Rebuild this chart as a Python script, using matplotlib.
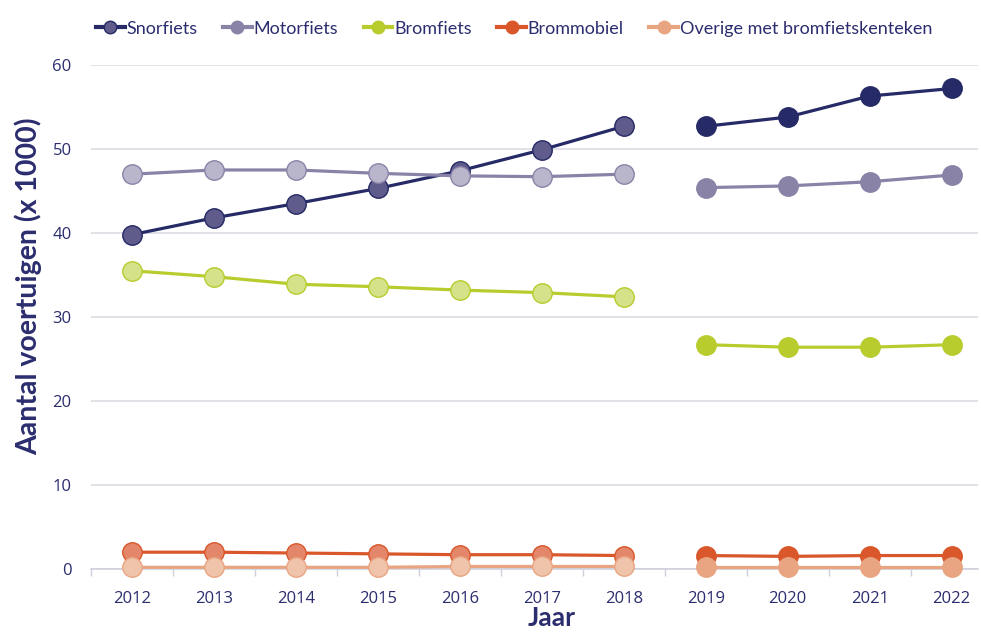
import matplotlib
matplotlib.use("Agg")
from matplotlib import pyplot as plt
from matplotlib.lines import Line2D

# jaren: 2012-2018 en 2019-2022 worden los getekend
jaren = ["2012", "2013", "2014", "2015", "2016", "2017", "2018",
         "2019", "2020", "2021", "2022"]
series = ["Snorfiets", "Motorfiets", "Bromfiets", "Brommobiel",
          "Overige met bromfietskenteken"]

snorfiets = [39.8, 41.8, 43.5, 45.3, 47.4, 49.9, 52.7, 52.7, 53.8, 56.3, 57.2]
motorfiets = [47.0, 47.5, 47.5, 47.1, 46.8, 46.7, 47.0, 45.4, 45.6, 46.1, 46.9]
bromfiets = [35.5, 34.8, 33.9, 33.6, 33.2, 32.9, 32.4, 26.7, 26.4, 26.4, 26.7]
brommobiel = [2.0, 2.0, 1.9, 1.8, 1.7, 1.7, 1.6, 1.6, 1.5, 1.6, 1.6]
overige = [0.2, 0.2, 0.2, 0.2, 0.3, 0.3, 0.3, 0.2, 0.2, 0.2, 0.2]

waarden = [snorfiets, motorfiets, bromfiets, brommobiel, overige]
kleuren = ["#262a66", "#8a83a8", "#b8cc2e", "#d9572a", "#e9a582"]
licht = ["#5f5b8a", "#b9b6cc", "#d6e28a", "#e3866a", "#f0c4ab"]

tekst = "#2b2d6e"
plt.rcParams["font.family"] = ["Open Sans", "DejaVu Sans"]
label_font = ["Lato", "DejaVu Sans"]

fig = plt.figure(figsize=(9.81, 6.32), dpi=100)
ax = fig.add_axes([0.0928, 0.0997, 0.904, 0.7975])

x = list(range(len(jaren)))
knip = 7
for vals, kl, lk in zip(waarden, kleuren, licht):
    # oude reeks (lichtere markers)
    ax.plot(x[:knip], vals[:knip], color=kl, lw=2.3, marker="o", ms=14,
            mfc=lk, mec=kl, mew=1.0, clip_on=False, zorder=3)
    # nieuwe reeks
    ax.plot(x[knip:], vals[knip:], color=kl, lw=2.3, marker="o", ms=14,
            mfc=kl, mec=kl, mew=1.0, clip_on=False, zorder=3)

ax.set_xlim(-0.5, 10.32)
ax.set_ylim(0, 60)
ax.set_yticks(range(0, 61, 10))
ax.set_xticks(x)
ax.set_xticklabels(jaren)
ax.set_xticks([i - 0.5 for i in range(len(jaren))], minor=True)
ax.tick_params(axis="x", which="major", length=0, pad=16, labelsize=12, labelcolor=tekst)
ax.tick_params(axis="x", which="minor", length=5, color="#d0d0dc", width=1)
ax.tick_params(axis="y", length=0, pad=14, labelsize=12, labelcolor=tekst)

ax.grid(axis="y", color="#dcdce4", lw=1.2)
ax.set_axisbelow(True)
for s in ["top", "right", "left"]:
    ax.spines[s].set_visible(False)
ax.spines["bottom"].set_color("#d0d0dc")
ax.spines["bottom"].set_linewidth(1.2)

ax.set_xlabel("Jaar", fontsize=19, fontweight="bold", color=tekst, family=label_font)
ax.set_ylabel("Aantal voertuigen (x 1000)", fontsize=20.5, fontweight="bold",
              color=tekst, family=label_font)
ax.xaxis.set_label_coords(0.519, -0.074)
ax.yaxis.set_label_coords(-0.055, 0.56)

handles = [Line2D([0], [0], color=kl, lw=3, marker="o", ms=9, mfc=lk if i == 0 else kl,
                  mec=kl) for i, (kl, lk) in enumerate(zip(kleuren, licht))]
ax.legend(handles, series, loc="upper center", bbox_to_anchor=(0.477, 1.12), ncol=5,
          frameon=False, prop={"family": label_font, "size": 13}, labelcolor=tekst,
          handlelength=1.6, handletextpad=0.1, columnspacing=1.4)

fig.savefig("out.png", dpi=100)
